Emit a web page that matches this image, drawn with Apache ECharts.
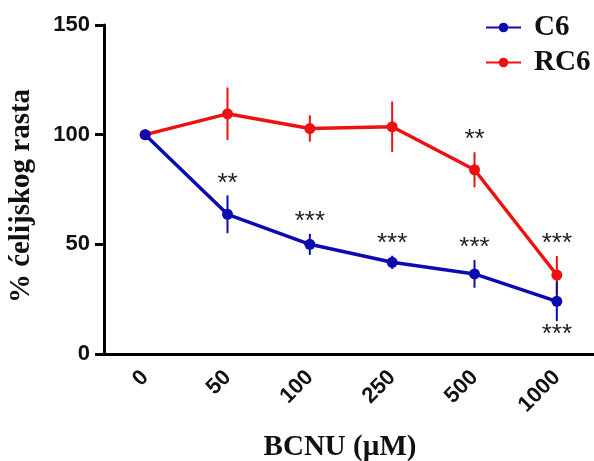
<!DOCTYPE html>
<html>
<head>
<meta charset="utf-8">
<script src="https://cdn.jsdelivr.net/npm/echarts@6/dist/echarts.min.js"></script>
<style>html,body{margin:0;padding:0;background:#fff}#c{width:594px;height:461px}</style>
</head>
<body>
<div id="c"></div>
<script>
const categories = ['0', '50', '100', '250', '500', '1000'];
const c6 = [100, 63.7, 50.0, 41.8, 36.5, 24.0];
const c6Err = [0, 8.6, 4.8, 3.0, 6.3, 9.0];
const rc6 = [100, 109.5, 102.8, 103.6, 84.0, 36.0];
const rc6Err = [0, 12.0, 6.0, 11.5, 8.0, 8.7];
const c6Sig = ['', '**', '***', '***', '***', '***'];
const c6SigSide = ['', 'above', 'above', 'above', 'above', 'below'];
const rc6Sig = ['', '', '', '', '**', '***'];
const rc6SigSide = ['', '', '', '', 'above', 'above'];
const yTicks = [0, 50, 100, 150];

const BLUE = '#0b0bb0';
const RED = '#ee1111';
const SERIF = '"Liberation Serif", "Times New Roman", serif';
const SANS = '"Liberation Sans", Arial, sans-serif';

function errData(vals, errs) {
  return vals.map((v, i) => [i, v - errs[i], v + errs[i]]);
}
function sigData(vals, errs, sig, side) {
  const out = [];
  sig.forEach((s, i) => {
    if (s) out.push({ value: [i, side[i] === 'below' ? vals[i] - errs[i] : vals[i] + errs[i]], sig: s, side: side[i] });
  });
  return out;
}
function errSeries(name, vals, errs, color, z) {
  return {
    type: 'custom', name: name + '_err', z: z,
    data: errData(vals, errs),
    encode: { x: 0, y: [1, 2] },
    renderItem: function (params, api) {
      const lo = api.coord([api.value(0), api.value(1)]);
      const hi = api.coord([api.value(0), api.value(2)]);
      return { type: 'line', shape: { x1: lo[0], y1: lo[1], x2: hi[0], y2: hi[1] }, style: { stroke: color, lineWidth: 2 } };
    },
    silent: true
  };
}
function sigSeries(name, items) {
  return {
    type: 'custom', name: name + '_sig', z: 10,
    data: items,
    encode: { x: 0, y: 1 },
    renderItem: function (params, api) {
      const item = items[params.dataIndex];
      const p = api.coord([api.value(0), api.value(1)]);
      const y = item.side === 'below' ? p[1] + 14 : p[1] - 12;
      return { type: 'text', style: { text: item.sig, x: p[0], y: y, align: 'center', verticalAlign: 'middle', fontSize: 26, fontFamily: SANS, fill: '#222' } };
    },
    silent: true
  };
}

const chart = echarts.init(document.getElementById('c'));
chart.setOption({
  animation: false,
  backgroundColor: '#fff',
  grid: { left: 104, right: -4, top: 25, bottom: 107, containLabel: false, outerBoundsMode: 'none' },
  legend: {
    data: ['C6', 'RC6'], orient: 'vertical', left: 485, top: 13, padding: 0,
    itemWidth: 35, itemHeight: 12, itemGap: 6,
    textStyle: { fontFamily: SERIF, fontWeight: 'bold', fontSize: 29, color: '#111', padding: [0, 0, 0, 8] }
  },
  xAxis: {
    type: 'category', data: categories, boundaryGap: true,
    axisLine: { lineStyle: { color: '#000', width: 3 } },
    axisTick: { alignWithLabel: true, length: 9, lineStyle: { color: '#000', width: 3 } },
    axisLabel: { rotate: 45, margin: 20, fontFamily: SANS, fontWeight: 'bold', fontSize: 22, color: '#111' },
    name: 'BCNU (µM)', nameLocation: 'middle', nameGap: 79,
    nameTextStyle: { fontFamily: SERIF, fontWeight: 'bold', fontSize: 29, color: '#111', padding: [0, 22, 0, 0] }
  },
  yAxis: {
    type: 'value', min: yTicks[0], max: yTicks[yTicks.length - 1], interval: 50,
    splitLine: { show: false },
    axisLine: { show: true, lineStyle: { color: '#000', width: 3 } },
    axisTick: { show: true, length: 9, lineStyle: { color: '#000', width: 3 } },
    axisLabel: { margin: 14, fontFamily: SANS, fontWeight: 'bold', fontSize: 22, color: '#111' },
    name: '% ćelijskog rasta', nameLocation: 'middle', nameGap: 68, nameRotate: 90,
    nameTextStyle: { fontFamily: SERIF, fontWeight: 'bold', fontSize: 29, color: '#111', padding: [0, 13, 0, 0] }
  },
  series: [
    errSeries('RC6', rc6, rc6Err, RED, 2),
    {
      name: 'RC6', type: 'line', data: rc6, z: 3,
      symbol: 'circle', symbolSize: 11,
      lineStyle: { color: RED, width: 3.5 }, itemStyle: { color: RED }
    },
    errSeries('C6', c6, c6Err, BLUE, 4),
    {
      name: 'C6', type: 'line', data: c6, z: 5,
      symbol: 'circle', symbolSize: 11,
      lineStyle: { color: BLUE, width: 3.5 }, itemStyle: { color: BLUE }
    },
    sigSeries('C6', sigData(c6, c6Err, c6Sig, c6SigSide)),
    sigSeries('RC6', sigData(rc6, rc6Err, rc6Sig, rc6SigSide))
  ]
});
</script>
</body>
</html>
